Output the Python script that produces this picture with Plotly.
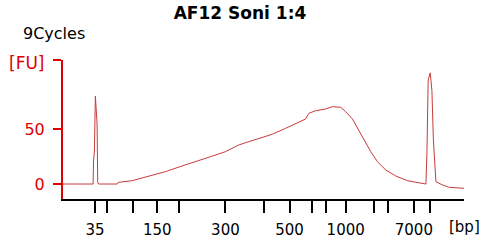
import plotly.graph_objects as go

# Ladder (bp) and migration times (s)
ladder_bp = [35, 50, 100, 150, 200, 300, 400, 500, 600, 700, 1000, 2000, 3000, 7000, 10380]
ladder_time = [28.8, 32.1, 39.25, 45.85, 51.9, 64.55, 75.0, 82.15, 88.2, 92.05, 97.55, 105.25, 109.1, 116.25, 120.65]
labeled_bp = [35, 150, 300, 500, 1000, 7000]

# Electropherogram trace: time (s) and fluorescence (FU)
time_s = [20.0, 28.25, 28.39, 28.61, 28.88, 29.21, 29.35, 29.52, 29.76, 34.85, 35.13,
          38.89, 43.93, 48.05, 52.64, 56.77, 60.43, 64.55, 68.21, 70.96, 74.64, 77.39,
          81.05, 83.8, 86.55, 87.46, 89.3, 92.05, 93.89, 96.18, 97.55, 99.39, 100.3,
          101.68, 103.05, 104.43, 106.27, 108.55, 111.3, 114.52, 119.55, 119.83,
          120.18, 120.73, 121.2, 121.6, 122.3, 124.14, 125.96, 130.0]
fu = [0, 0, 21.8, 29.1, 80, 62.7, 54.5, 1.8, 0, 0, 1.5,
      3.0, 7.3, 11.2, 16.4, 21.2, 24.8, 29.4, 35.5, 38.5, 42.1, 45.2,
      50.6, 55.2, 59.1, 64.3, 66.6, 68.2, 70.3, 69.7, 65.7, 59.1, 53.6,
      46.1, 37.0, 29.4, 20.3, 12.7, 7.3, 3.0, 0, 28.2,
      94.5, 101, 85, 40, 2.1, -0.9, -3.0, -3.9]

y_ticks = [0, 50, 112.7]
y_ticktext = ["0", "50", ""]

FONT = "DejaVu Sans"
AXIS_RED = "#e00000"
LINE_RED = "#c83c3c"

tick_vals = ladder_time
tick_text = [str(b) if b in labeled_bp else "" for b in ladder_bp]

fig = go.Figure()
fig.add_trace(go.Scatter(x=time_s, y=fu, mode="lines",
                         line=dict(color=LINE_RED, width=1), hoverinfo="skip"))

fig.update_layout(
    width=480, height=243,
    margin=dict(l=63, r=16, t=60, b=44),
    paper_bgcolor="white", plot_bgcolor="white",
    showlegend=False,
    font=dict(family=FONT, size=15, color="black"),
    title=dict(text="<b>AF12 Soni 1:4</b>", x=0.5, xanchor="center",
               y=1 - 13 / 243, yanchor="middle", font=dict(size=17, color="black")),
)
fig.update_xaxes(range=[20, 130], showgrid=False, zeroline=False, automargin=False,
                 showline=True, linecolor="black", linewidth=2,
                 ticks="outside", ticklen=12, tickwidth=2, tickcolor="black",
                 tickvals=tick_vals, ticktext=tick_text, ticklabelstandoff=4,
                 tickfont=dict(size=15, color="black", family=FONT))
fig.update_yaxes(range=[-13.6, 112.7], showgrid=False, zeroline=False, automargin=False,
                 showline=True, linecolor=AXIS_RED, linewidth=2,
                 ticks="outside", ticklen=8, tickwidth=2, tickcolor=AXIS_RED,
                 tickvals=y_ticks, ticktext=y_ticktext, ticklabelstandoff=5,
                 tickfont=dict(size=16, color=AXIS_RED, family=FONT))

fig.add_annotation(text="[FU]", xref="paper", yref="paper",
                   x=(47 - 63) / 401, y=(199 - 63) / 139, xanchor="right", yanchor="middle",
                   showarrow=False, font=dict(size=17, color=AXIS_RED, family=FONT))
fig.add_annotation(text="9Cycles", xref="paper", yref="paper",
                   x=(21 - 63) / 401, y=(199 - 33) / 139, xanchor="left", yanchor="middle",
                   showarrow=False, font=dict(size=16, color="black", family=FONT))
fig.add_annotation(text="[bp]", xref="paper", yref="paper",
                   x=(447 - 63) / 401, y=(199 - 227) / 139, xanchor="left", yanchor="middle",
                   showarrow=False, font=dict(size=15, color="black", family=FONT))

fig.write_html("out.html", config={"displayModeBar": False},
               post_script="document.body.style.margin='0';")
